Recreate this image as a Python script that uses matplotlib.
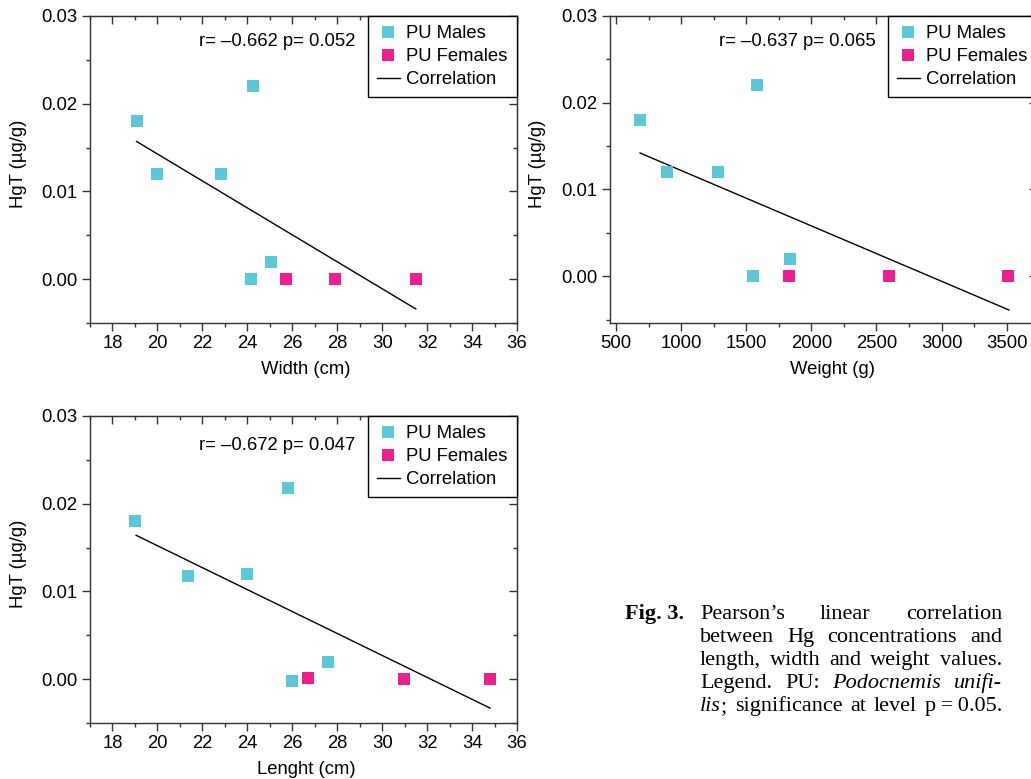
import numpy as np
import matplotlib
matplotlib.use("Agg")
from matplotlib import pyplot as plt
from matplotlib.lines import Line2D
from matplotlib.ticker import MultipleLocator, FormatStrFormatter

plt.rcParams['font.family'] = ['Liberation Sans', 'DejaVu Sans']

# colores
cyan = '#5bc8d7'
pink = '#ec1f8c'

# ancho (cm) vs HgT
width_m = [19.07, 20.0, 22.85, 24.25, 24.15, 25.05]
hg_width_m = [0.018, 0.012, 0.012, 0.022, 0.0, 0.002]
width_f = [25.7, 27.9, 31.5]
hg_width_f = [0.0, 0.0, 0.0]
width_fit_x = [19.07, 31.5]
width_fit_y = [0.0157, -0.0034]

# peso (g) vs HgT
weight_m = [685, 890, 1285, 1582, 1551, 1838]
hg_weight_m = [0.018, 0.012, 0.012, 0.022, 0.0, 0.002]
weight_f = [1828, 2598, 3513]
hg_weight_f = [0.0, 0.0, 0.0]
weight_fit_x = [685, 3518]
weight_fit_y = [0.0142, -0.0039]

# largo (cm) vs HgT
length_m = [19.02, 21.38, 24.0, 25.82, 26.0, 27.6]
hg_length_m = [0.018, 0.0118, 0.012, 0.0218, -0.0002, 0.0019]
length_f = [26.71, 30.98, 34.8]
hg_length_f = [0.0001, 0.0, 0.0]
length_fit_x = [19.05, 34.8]
length_fit_y = [0.0164, -0.0033]

stats = ["r= \u20130.662 p= 0.052", "r= \u20130.637 p= 0.065", "r= \u20130.672 p= 0.047"]

W, H = 1031, 779
fs = 13.3
fig = plt.figure(figsize=(W/100, H/100), dpi=100)


def panel(rect, xm, ym, xf, yf, fx, fy, txt, xlabel, xlim, ylim, xmaj, xmin, txt_y, xlab_x):
    ax = fig.add_axes(rect)
    ax.plot(fx, fy, color='black', lw=1.0, zorder=2)
    ax.plot(xm, ym, 's', color=cyan, ms=8.6, mew=0, zorder=3)
    ax.plot(xf, yf, 's', color=pink, ms=8.6, mew=0, zorder=3)
    ax.set_xlim(*xlim)
    ax.set_ylim(*ylim)
    ax.xaxis.set_major_locator(MultipleLocator(xmaj))
    ax.xaxis.set_minor_locator(MultipleLocator(xmin))
    ax.yaxis.set_major_locator(MultipleLocator(0.01))
    ax.yaxis.set_minor_locator(MultipleLocator(0.005))
    ax.yaxis.set_major_formatter(FormatStrFormatter('%.2f'))
    ax.tick_params(which='both', direction='out', labelsize=fs, color='#333333', width=1.0)
    ax.tick_params(which='major', length=5.5, pad=3.5)
    ax.tick_params(which='minor', length=3)
    for s in ax.spines.values():
        s.set_color('#333333')
        s.set_linewidth(1.0)
    top = ax.secondary_xaxis('top')
    top.xaxis.set_major_locator(MultipleLocator(xmaj))
    top.xaxis.set_minor_locator(MultipleLocator(xmin))
    top.tick_params(which='both', direction='in', labeltop=False, color='#333333', width=1.0)
    top.tick_params(which='major', length=5.5)
    top.tick_params(which='minor', length=3)
    top.spines['top'].set_color('#333333')
    right = ax.secondary_yaxis('right')
    right.yaxis.set_major_locator(MultipleLocator(0.01))
    right.yaxis.set_minor_locator(MultipleLocator(0.005))
    right.tick_params(which='both', direction='in', labelright=False, color='#333333', width=1.0)
    right.tick_params(which='major', length=5.5)
    right.tick_params(which='minor', length=3)
    right.spines['right'].set_color('#333333')

    ax.set_xlabel(xlabel, fontsize=fs, va='center')
    ax.xaxis.set_label_coords(xlab_x, -47/307)
    ax.set_ylabel("HgT (\u00b5g/g)", fontsize=fs, va='center')
    ax.yaxis.set_label_coords(-72/427, 0.52)
    ax.text(0.255, txt_y, txt, transform=ax.transAxes, fontsize=fs, va='center', ha='left')

    handles = [Line2D([], [], ls='none', marker='s', color=cyan, ms=8.6, mew=0),
               Line2D([], [], ls='none', marker='s', color=pink, ms=8.6, mew=0),
               Line2D([], [], color='black', lw=1.0)]
    leg = ax.legend(handles, ["PU Males", "PU Females", "Correlation"], loc='upper right',
                    borderaxespad=0, fontsize=fs, fancybox=False, framealpha=1,
                    edgecolor='black', handlelength=1.25, handletextpad=0.35,
                    labelspacing=0.32, borderpad=0.5)
    leg.get_frame().set_linewidth(1.0)
    return ax


panel([90/W, 1-323/H, 427/W, 307/H], width_m, hg_width_m, width_f, hg_width_f,
      width_fit_x, width_fit_y, stats[0], "Width (cm)", (17, 36), (-0.005, 0.03), 2, 1, 0.916, 0.506)
panel([610/W, 1-323/H, 427/W, 307/H], weight_m, hg_weight_m, weight_f, hg_weight_f,
      weight_fit_x, weight_fit_y, stats[1], "Weight (g)", (454, 3733), (-0.0054, 0.03), 500, 250, 0.916, 0.52)
panel([90/W, 1-723/H, 427/W, 307/H], length_m, hg_length_m, length_f, hg_length_f,
      length_fit_x, length_fit_y, stats[2], "Lenght (cm)", (17, 36), (-0.005, 0.03), 2, 1, 0.905, 0.506)

# pie de figura, justificado
cap_lines = [
    [[("Pearson\u2019s", False)], [("linear", False)], [("correlation", False)]],
    [[("between", False)], [("Hg", False)], [("concentrations", False)], [("and", False)]],
    [[("length,", False)], [("width", False)], [("and", False)], [("weight", False)], [("values.", False)]],
    [[("Legend.", False)], [("PU:", False)], [("Podocnemis", True)], [("unifi-", True)]],
    [[("lis", True), (";", False)], [("significance", False)], [("at", False)], [("level", False)], [("p\u2009=\u20090.05.", False)]],
]
x0, x1 = 700, 1002
base0, step = 619, 23
cap_font = ['Liberation Serif', 'DejaVu Serif']
fig.text(625/W, 1-base0/H, "Fig. 3.", fontsize=16, fontweight='bold', family=cap_font,
         va='baseline', ha='left')
renderer = fig.canvas.get_renderer()
for i, line in enumerate(cap_lines):
    yb = 1 - (base0 + i*step)/H
    words = []
    for word in line:
        pieces = []
        for s, it in word:
            t = fig.text(0, yb, s, fontsize=16, family=cap_font, style='italic' if it else 'normal',
                         va='baseline', ha='left')
            pieces.append((t, t.get_window_extent(renderer).width))
        words.append(pieces)
    total = sum(w for pieces in words for _, w in pieces)
    gap = (x1 - x0 - total)/(len(words)-1)
    x = x0
    for pieces in words:
        for t, w in pieces:
            t.set_x(x/W)
            x += w
        x += gap

fig.savefig("out.png", dpi=100)
